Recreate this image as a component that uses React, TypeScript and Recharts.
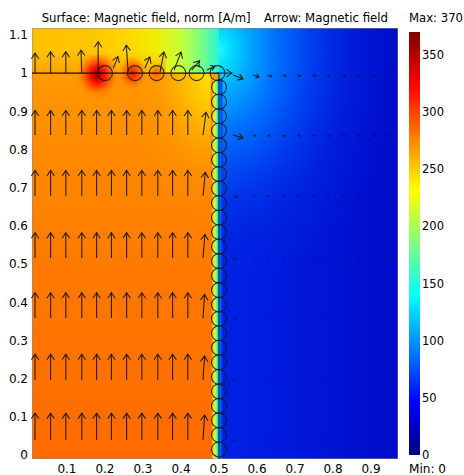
import React from 'react';
import { ComposedChart, XAxis, YAxis, ReferenceArea, ReferenceLine, Scatter, Bar } from 'recharts';

const FONT = '"DejaVu Sans", Verdana, sans-serif';

// ---- axes / scale ----
const xTicks = [0.1, 0.2, 0.3, 0.4, 0.5, 0.6, 0.7, 0.8, 0.9];
const yTicks = [0, 0.1, 0.2, 0.3, 0.4, 0.5, 0.6, 0.7, 0.8, 0.9, 1, 1.1];
const colorTicks = [0, 50, 100, 150, 200, 250, 300, 350];
const fieldMin = 0;
const fieldMax = 370;
const xDomain: [number, number] = [0.008, 0.971];
const yDomain: [number, number] = [-0.01, 1.118];
const ironEdgeX = 0.5;
const ironTopY = 1.0;

const surfaceTitle = 'Surface: Magnetic field, norm [A/m]';
const arrowTitle = 'Arrow: Magnetic field';

// ---- arrows: top row along y = 1 (x, y, u, v) ----
const topRowX = [0.016, 0.057, 0.097, 0.139, 0.182, 0.222, 0.261, 0.305, 0.345, 0.382, 0.428, 0.468, 0.494, 0.537, 0.589, 0.626, 0.666, 0.705, 0.745, 0.784, 0.824, 0.863, 0.903, 0.942];
const topRowY = [1.0, 1.0, 1.0, 1.0, 1.0, 1.013, 1.003, 1.013, 1.003, 1.008, 1.008, 1.008, 1.0, 0.995, 0.995, 0.995, 0.995, 0.995, 0.995, 0.995, 0.995, 0.995, 0.995, 0.995];
const topRowU = [0, 0, 0, -0.002, 0, 0.012, -0.005, 0.013, 0.01, 0.018, 0.021, 0.021, 0.04, 0.026, 0.016, 0.013, 0.011, 0.01, 0.009, 0.008, 0.008, 0.007, 0.007, 0.006];
const topRowV = [0.052, 0.056, 0.056, 0.06, 0.082, 0.03, 0.07, 0.029, 0.052, 0.047, 0.024, 0.01, 0, -0.01, -0.005, -0.004, -0.003, -0.003, -0.002, -0.002, -0.002, -0.002, -0.001, -0.001];

// ---- arrows: rows inside the iron (left) and air (right) ----
const leftColumnsX = [0.016, 0.057, 0.097, 0.139, 0.178, 0.217, 0.257, 0.297, 0.339, 0.378, 0.418, 0.458];
const bodyRowsY = [0.04, 0.197, 0.359, 0.516, 0.679, 0.838];
const bodyRowLength = [0.07, 0.067, 0.066, 0.066, 0.066, 0.064];
const lastColumnTilt = [0.004, 0.004, 0.004, 0.005, 0.006, 0.008];
const rightColumnsX = [0.537, 0.589, 0.626, 0.666, 0.705, 0.745, 0.784, 0.824, 0.863, 0.903, 0.942];
const rightFirstU = [0.006, 0.006, 0.007, 0.008, 0.012, 0.026];
const rightRestU = [0.003, 0.003, 0.003, 0.004, 0.005, 0.008];

// ---- circle markers along the iron boundary ----
const topCirclesX = [0.2, 0.279, 0.336, 0.393, 0.441, 0.496];
const sideCirclesY = [0.963, 0.925, 0.887, 0.849, 0.811, 0.773, 0.736, 0.698, 0.66, 0.622, 0.584, 0.546, 0.508, 0.47, 0.432, 0.394, 0.357, 0.319, 0.281, 0.243, 0.205, 0.167, 0.129, 0.091, 0.053, 0.015];

// ---- colour legend ----
const legendData = [{ name: 'norm', value: fieldMax }];

type Arrow = { x: number; y: number; u: number; v: number };

const arrows: Arrow[] = [];
topRowX.forEach((x, i) => arrows.push({ x, y: topRowY[i], u: topRowU[i], v: topRowV[i] }));
bodyRowsY.forEach((y, r) => {
  leftColumnsX.forEach((x, c) => {
    const last = c === leftColumnsX.length - 1;
    arrows.push({ x, y, u: last ? lastColumnTilt[r] : 0, v: bodyRowLength[r] * (last ? 0.93 : 1) });
  });
  rightColumnsX.forEach((x, c) => {
    const u = c === 0 ? rightFirstU[r] : rightRestU[r];
    arrows.push({ x, y, u, v: -u * 0.3 });
  });
});

const circles = [
  ...topCirclesX.map((x) => ({ x, y: ironTopY })),
  ...sideCirclesY.map((y) => ({ x: ironEdgeX, y })),
];

const ArrowShape = (props: any) => {
  const { x1, y1, x2, y2 } = props;
  if (![x1, y1, x2, y2].every((n) => Number.isFinite(n))) return null;
  const dx = x2 - x1;
  const dy = y2 - y1;
  const len = Math.hypot(dx, dy);
  const stroke = '#141414';
  if (len < 1.2) return <circle cx={x1} cy={y1} r={0.7} fill={stroke} fillOpacity={0.55} />;
  const ux = dx / len;
  const uy = dy / len;
  const head = Math.min(5.5, len * 0.45);
  const half = head * 0.68;
  const bx = x2 - ux * head;
  const by = y2 - uy * head;
  const px = -uy * half;
  const py = ux * half;
  const op = len < 6 ? 0.6 : 0.9;
  return (
    <g>
      <line x1={x1} y1={y1} x2={x2} y2={y2} stroke={stroke} strokeWidth={1.1} strokeOpacity={op} />
      <polyline
        points={`${bx + px},${by + py} ${x2},${y2} ${bx - px},${by - py}`}
        fill="none"
        stroke={stroke}
        strokeWidth={1.1}
        strokeOpacity={op}
      />
    </g>
  );
};

const CircleShape = (props: any) => {
  const { cx, cy } = props;
  if (!Number.isFinite(cx) || !Number.isFinite(cy)) return null;
  return <circle cx={cx} cy={cy} r={7.5} fill="none" stroke="#1a1a1a" strokeWidth={1.1} strokeOpacity={0.85} />;
};

const tickStyle = { fontSize: 12, fill: '#000', fontFamily: FONT };

export default function App() {
  return (
    <div style={{ position: 'absolute', left: 0, top: 0, width: 464, height: 475, background: '#fff', overflow: 'hidden' }}>
      <div style={{ position: 'absolute', left: 0, top: 0 }}>
        <ComposedChart width={464} height={475} margin={{ top: 28, right: 66, bottom: 0, left: 0 }}>
          <defs>
            <linearGradient id="ironBody" x1="0" y1="0" x2="0" y2="1">
              <stop offset="0" stopColor="#ff9c00" />
              <stop offset="0.06" stopColor="#ff9400" />
              <stop offset="0.2" stopColor="#ff8a00" />
              <stop offset="0.5" stopColor="#ff7a00" />
              <stop offset="1" stopColor="#ff6a00" />
            </linearGradient>
            <radialGradient id="ironCornerGlow" cx="1" cy="0" r="1">
              <stop offset="0" stopColor="#ffe600" stopOpacity="1" />
              <stop offset="0.3" stopColor="#ffc400" stopOpacity="0.8" />
              <stop offset="0.65" stopColor="#ffa000" stopOpacity="0.35" />
              <stop offset="1" stopColor="#ff9000" stopOpacity="0" />
            </radialGradient>
            <linearGradient id="airTopLeft" x1="0" y1="0" x2="1" y2="0">
              <stop offset="0" stopColor="#ffc000" />
              <stop offset="0.29" stopColor="#ffc400" />
              <stop offset="0.49" stopColor="#ffd400" />
              <stop offset="0.65" stopColor="#f4ec00" />
              <stop offset="0.8" stopColor="#c4ff3a" />
              <stop offset="0.9" stopColor="#7cff82" />
              <stop offset="1" stopColor="#28f4d8" />
            </linearGradient>
            <linearGradient id="airTopShade" x1="0" y1="0" x2="0" y2="1">
              <stop offset="0" stopColor="#ff9800" stopOpacity="0" />
              <stop offset="1" stopColor="#ff9000" stopOpacity="0.65" />
            </linearGradient>
            <linearGradient id="rightBase" x1="0" y1="0" x2="1" y2="0">
              <stop offset="0" stopColor="#0022e6" />
              <stop offset="0.5" stopColor="#0016d8" />
              <stop offset="1" stopColor="#000cc8" />
            </linearGradient>
            <radialGradient id="cornerGlow" cx="0" cy="0.087" r="1">
              <stop offset="0" stopColor="#30f0ff" stopOpacity="1" />
              <stop offset="0.06" stopColor="#00e0ff" stopOpacity="1" />
              <stop offset="0.17" stopColor="#00a8ff" stopOpacity="1" />
              <stop offset="0.32" stopColor="#0070ff" stopOpacity="1" />
              <stop offset="0.53" stopColor="#0040f0" stopOpacity="0.9" />
              <stop offset="0.75" stopColor="#0026e2" stopOpacity="0.5" />
              <stop offset="1" stopColor="#0020e0" stopOpacity="0" />
            </radialGradient>
            <linearGradient id="edgeStrip" x1="0" y1="0" x2="1" y2="0">
              <stop offset="0" stopColor="#ff8000" stopOpacity="0" />
              <stop offset="0.2" stopColor="#ffd000" />
              <stop offset="0.35" stopColor="#e0ff20" />
              <stop offset="0.47" stopColor="#60ffa0" />
              <stop offset="0.58" stopColor="#00e0ff" />
              <stop offset="0.72" stopColor="#0090ff" />
              <stop offset="0.86" stopColor="#0040f0" />
              <stop offset="1" stopColor="#0022e6" stopOpacity="0" />
            </linearGradient>
            <radialGradient id="hot1" cx="0.5" cy="0.4" r="0.5">
              <stop offset="0" stopColor="#8c0000" stopOpacity="1" />
              <stop offset="0.15" stopColor="#c80000" stopOpacity="1" />
              <stop offset="0.35" stopColor="#ff1000" stopOpacity="0.95" />
              <stop offset="0.6" stopColor="#ff4000" stopOpacity="0.6" />
              <stop offset="0.85" stopColor="#ff7000" stopOpacity="0.2" />
              <stop offset="1" stopColor="#ff8000" stopOpacity="0" />
            </radialGradient>
            <radialGradient id="hot2" cx="0.5" cy="0.5" r="0.5">
              <stop offset="0" stopColor="#e00000" stopOpacity="0.9" />
              <stop offset="0.4" stopColor="#ff3000" stopOpacity="0.7" />
              <stop offset="1" stopColor="#ff6000" stopOpacity="0" />
            </radialGradient>
            <radialGradient id="hot3" cx="0.5" cy="0.5" r="0.5">
              <stop offset="0" stopColor="#ff4000" stopOpacity="0.75" />
              <stop offset="1" stopColor="#ff7000" stopOpacity="0" />
            </radialGradient>
          </defs>
          <XAxis
            type="number"
            dataKey="x"
            domain={xDomain}
            allowDataOverflow
            ticks={xTicks}
            interval={0}
            tickSize={0}
            tickMargin={5}
            axisLine={false}
            height={16}
            tick={tickStyle}
          />
          <YAxis
            type="number"
            dataKey="y"
            domain={yDomain}
            allowDataOverflow
            ticks={yTicks}
            interval={0}
            tickSize={0}
            tickMargin={4}
            axisLine={false}
            width={32}
            tick={tickStyle}
          />
          {/* surface field */}
          <ReferenceArea x1={xDomain[0]} x2={ironEdgeX} y1={yDomain[0]} y2={ironTopY} fill="url(#ironBody)" fillOpacity={1} stroke="none" ifOverflow="hidden" />
          <ReferenceArea x1={0.25} x2={0.478} y1={0.6} y2={ironTopY} fill="url(#ironCornerGlow)" fillOpacity={1} stroke="none" ifOverflow="hidden" />
          <ReferenceArea x1={xDomain[0]} x2={ironEdgeX} y1={ironTopY} y2={yDomain[1]} fill="url(#airTopLeft)" fillOpacity={1} stroke="none" ifOverflow="hidden" />
          <ReferenceArea x1={xDomain[0]} x2={0.36} y1={ironTopY} y2={1.06} fill="url(#airTopShade)" fillOpacity={1} stroke="none" ifOverflow="hidden" />
          <ReferenceArea x1={ironEdgeX} x2={xDomain[1]} y1={yDomain[0]} y2={yDomain[1]} fill="url(#rightBase)" fillOpacity={1} stroke="none" ifOverflow="hidden" />
          <ReferenceArea x1={ironEdgeX} x2={xDomain[1]} y1={0.45} y2={yDomain[1]} fill="url(#cornerGlow)" fillOpacity={1} stroke="none" ifOverflow="hidden" />
          <ReferenceArea x1={0.478} x2={0.511} y1={yDomain[0]} y2={0.985} fill="url(#edgeStrip)" fillOpacity={1} stroke="none" ifOverflow="hidden" />
          <ReferenceArea x1={0.121} x2={0.239} y1={0.917} y2={1.048} fill="url(#hot1)" fillOpacity={1} stroke="none" ifOverflow="hidden" />
          <ReferenceArea x1={0.235} x2={0.31} y1={0.955} y2={1.045} fill="url(#hot2)" fillOpacity={1} stroke="none" ifOverflow="hidden" />
          <ReferenceArea x1={0.31} x2={0.36} y1={0.97} y2={1.03} fill="url(#hot3)" fillOpacity={1} stroke="none" ifOverflow="hidden" />
          <ReferenceArea x1={xDomain[0]} x2={xDomain[1]} y1={yDomain[0]} y2={yDomain[1]} fill="none" stroke="#8a8a8a" strokeWidth={1} ifOverflow="hidden" />
          {/* geometry edges */}
          <ReferenceLine segment={[{ x: xDomain[0], y: ironTopY }, { x: ironEdgeX, y: ironTopY }]} stroke="#111" strokeWidth={1.3} ifOverflow="visible" />
          <ReferenceLine segment={[{ x: ironEdgeX, y: ironTopY }, { x: ironEdgeX, y: yDomain[0] }]} stroke="#111" strokeWidth={1} ifOverflow="visible" />
          {/* arrows */}
          {arrows.map((a, i) => (
            <ReferenceLine
              key={`a${i}`}
              segment={[{ x: a.x, y: a.y }, { x: a.x + a.u, y: a.y + a.v }]}
              shape={ArrowShape}
              stroke="#141414"
              ifOverflow="visible"
            />
          ))}
          <Scatter data={circles} dataKey="y" shape={CircleShape} isAnimationActive={false} />
        </ComposedChart>
      </div>
      {/* colour legend */}
      <div style={{ position: 'absolute', left: 400, top: 0 }}>
        <ComposedChart
          width={64}
          height={475}
          data={legendData}
          margin={{ top: 32, right: 0, bottom: 20, left: 9 }}
          barCategoryGap={0}
        >
          <defs>
            <linearGradient id="jetScale" x1="0" y1="1" x2="0" y2="0">
              <stop offset="0" stopColor="#000080" />
              <stop offset="0.125" stopColor="#0000ff" />
              <stop offset="0.375" stopColor="#00ffff" />
              <stop offset="0.625" stopColor="#ffff00" />
              <stop offset="0.875" stopColor="#ff0000" />
              <stop offset="1" stopColor="#800000" />
            </linearGradient>
          </defs>
          <XAxis type="category" dataKey="name" hide height={0} />
          <YAxis
            type="number"
            orientation="right"
            domain={[fieldMin, fieldMax]}
            allowDataOverflow
            ticks={colorTicks}
            interval={0}
            tickSize={0}
            tickMargin={2}
            axisLine={false}
            width={44}
            tick={{ fontSize: 11.5, fill: '#000', fontFamily: FONT }}
          />
          <Bar dataKey="value" fill="url(#jetScale)" isAnimationActive={false} />
        </ComposedChart>
      </div>
      <svg width={464} height={475} style={{ position: 'absolute', left: 0, top: 0, pointerEvents: 'none' }}>
        <g fontFamily={FONT} fontSize={12} fill="#000">
          <text x={41.7} y={22} textLength={209} lengthAdjust="spacingAndGlyphs">{surfaceTitle}</text>
          <text x={264} y={22} textLength={124} lengthAdjust="spacingAndGlyphs">{arrowTitle}</text>
          <text x={409} y={22} textLength={54} lengthAdjust="spacingAndGlyphs">{`Max: ${fieldMax}`}</text>
          <text x={409} y={473} textLength={37} lengthAdjust="spacingAndGlyphs">{`Min: ${fieldMin}`}</text>
        </g>
      </svg>
    </div>
  );
}
